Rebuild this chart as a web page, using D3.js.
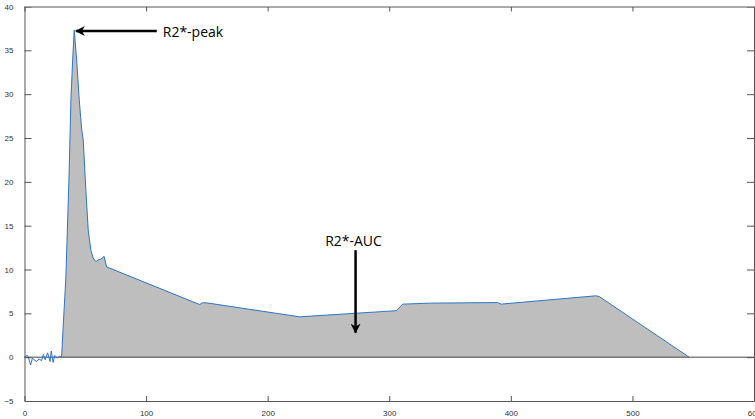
<!DOCTYPE html>
<html>
<head>
<meta charset="utf-8">
<script src="https://cdn.jsdelivr.net/npm/d3@7"></script>
<style type="text/css">
	body{ margin:0; background:#fff; }
	svg{ display:block; }
	.tick text{ font-family:"Liberation Sans", Arial, sans-serif; font-size:8px; fill:#333; }
	.note{ font-family:"Open Sans", sans-serif; font-size:14px; fill:#000; }
</style>
</head>
<body>
<svg id="svg" width="755" height="419"></svg>
<script type="text/javascript">

	// time points and R2* signal
	var t = [0, 2, 3, 5, 6.5, 8, 10, 12, 14, 15.5, 17, 19, 21, 22, 23.5, 25, 27, 29,
		30.5, 32, 34, 36.5, 38.2, 39.6, 40.9, 42.9, 45, 47, 48.3, 50.5, 52.4, 54.6, 56.5, 58.7,
		60.6, 63, 65.5, 67.5, 144.1, 146.3, 149.6, 226.3, 305.7, 311.1, 333, 389.1, 391.9,
		469.9, 472.6, 546.7];
	var r2 = [0, 0.2, 0.1, -0.9, -0.1, -0.3, -0.5, -0.2, -0.4, 0.3, -0.3, 0.5, -0.5, 0.7, -0.6, 0.2, -0.1, 0.1,
		0, 4, 9, 20, 29.4, 33.9, 37.3, 33.9, 29.4, 26, 24.8, 19, 14.5, 12.2, 11.3, 10.9,
		11.1, 11.2, 11.5, 10.3, 6.0, 6.2, 6.2, 4.6, 5.3, 6.05, 6.16, 6.23, 6.05,
		7.0, 6.92, 0];
	var fillStart = 30.5; // bolus arrival, shaded area starts here

	var xTicks = [0, 100, 200, 300, 400, 500, 600];
	var yTicks = [-5, 0, 5, 10, 15, 20, 25, 30, 35, 40];

	// annotations: [x, y] in data units
	var peakArrow = {from:[108.8, 37.2], to:[42.3, 37.2], label:"R2*-peak", labelAt:[113.7, 36.5]};
	var aucArrow = {from:[272.3, 12.2], to:[272.3, 2.8], label:"R2*-AUC", labelAt:[270.6, 12.7]};

	var m = {left:24.5, top:6.5, right:1, bottom:18};
	var W = 755 - m.left - m.right, H = 401 - m.top;

	var svg = d3.select("#svg");
	var g = svg.append("g").attr("transform", "translate("+m.left+","+m.top+")");

	var x = d3.scaleLinear().domain([0, 600]).range([0, W]);
	var y = d3.scaleLinear().domain([-5, 40]).range([H, 0]);

	var pts = t.map(function(d, i){ return [d, r2[i]]; });

	// shaded area
	g.append("path")
		.datum(pts.filter(function(d){ return d[0] >= fillStart; }))
		.attr("d", d3.area().x(function(d){ return x(d[0]); }).y0(y(0)).y1(function(d){ return y(d[1]); }))
		.style("fill", "#bebebe");

	// zero line
	g.append("line").attr("x1", x(0)).attr("x2", x(600)).attr("y1", y(0)).attr("y2", y(0))
		.style("stroke", "#444").style("stroke-width", 1);

	// curve
	g.append("path")
		.datum(pts)
		.attr("d", d3.line().x(function(d){ return x(d[0]); }).y(function(d){ return y(d[1]); }))
		.style("fill", "none").style("stroke", "#2f74c8").style("stroke-width", 1);

	// axes, ticks pointing inward
	g.append("g").attr("transform", "translate(0,"+H+")")
		.call(d3.axisBottom(x).tickValues(xTicks).tickSizeInner(-5).tickSizeOuter(0).tickPadding(9));
	g.append("g")
		.call(d3.axisTop(x).tickValues(xTicks).tickSizeInner(-5).tickSizeOuter(0).tickFormat(""));
	g.append("g")
		.call(d3.axisLeft(y).tickValues(yTicks).tickSizeInner(-7).tickSizeOuter(0).tickPadding(11));
	g.append("g").attr("transform", "translate("+W+",0)")
		.call(d3.axisRight(y).tickValues(yTicks).tickSizeInner(-7).tickSizeOuter(0).tickFormat(""));
	g.selectAll(".domain").style("stroke", "#555");
	g.selectAll(".tick line").style("stroke", "#555");
	g.selectAll(".tick text").attr("fill", null);
	// top border is lighter
	g.append("line").attr("x1", 0).attr("x2", W).attr("y1", 0).attr("y2", 0).style("stroke", "#aaa");

	// arrows
	svg.append("defs").append("marker")
		.attr("id", "head").attr("viewBox", "0 0 10 10").attr("refX", 9).attr("refY", 5)
		.attr("markerWidth", 4).attr("markerHeight", 4).attr("markerUnits", "strokeWidth")
		.attr("orient", "auto")
		.append("path").attr("d", "M0,0 L10,5 L0,10 L3,5 Z").style("fill", "#000");

	[peakArrow, aucArrow].forEach(function(a, i){
		g.append("line")
			.attr("x1", x(a.from[0])).attr("y1", y(a.from[1]))
			.attr("x2", x(a.to[0])).attr("y2", y(a.to[1]))
			.style("stroke", "#000").style("stroke-width", 2.5)
			.attr("marker-end", "url(#head)");
		g.append("text").attr("class", "note")
			.attr("x", x(a.labelAt[0])).attr("y", y(a.labelAt[1]))
			.attr("text-anchor", i === 0 ? "start" : "middle")
			.text(a.label);
	});

</script>
</body>
</html>
